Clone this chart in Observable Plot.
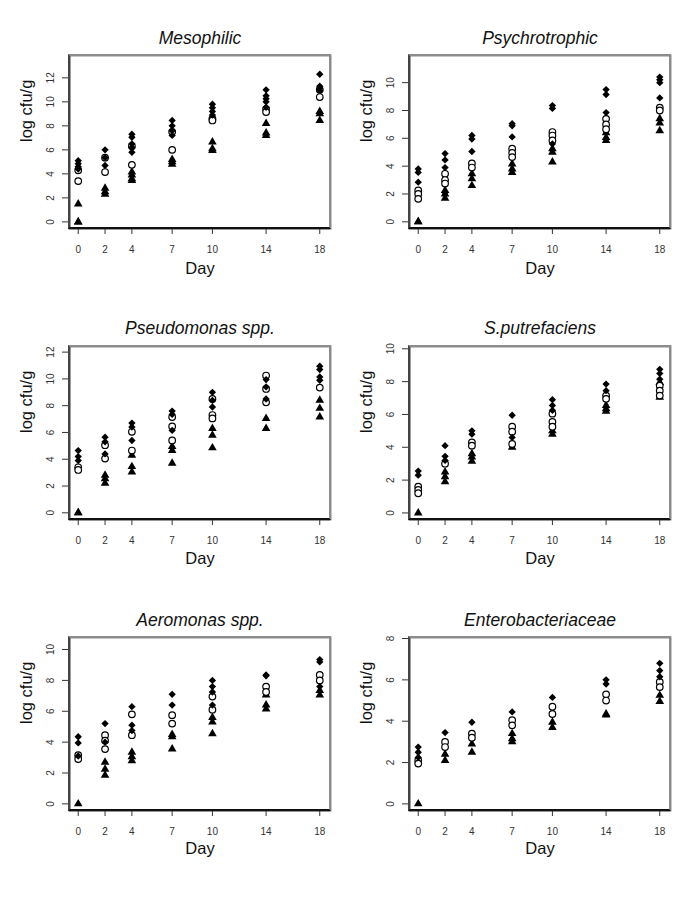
<!DOCTYPE html>
<html>
<head>
<meta charset="utf-8">
<script src="https://cdn.jsdelivr.net/npm/d3@7"></script>
<script src="https://cdn.jsdelivr.net/npm/@observablehq/plot@0.6"></script>
<style>
  html, body { margin: 0; padding: 0; background: #fff; }
  #grid {
    display: grid;
    grid-template-columns: 340px 339px;
    grid-template-rows: 290px 290px 290px;
    width: 679px;
  }
  .cell { position: relative; width: 339px; height: 290px; }
  .box {
    position: absolute;
    box-sizing: border-box;
    border-top: 2px solid #8c8c8c;
    border-right: 2px solid #8c8c8c;
    border-left: 2px solid #444;
    border-bottom: 2px solid #111;
    pointer-events: none;
  }
</style>
</head>
<body>
<div id="grid"></div>
<script>
// Sampling days (x axis ticks)
const days = [0, 2, 4, 7, 10, 14, 18];

// Counts in log cfu/g; each inner list holds the replicates for one day, in the order of `days`.
// "high" = filled diamonds, "mid" = open circles, "low" = filled triangles.
const mesophilicHigh = [[5.1, 4.85, 4.6, 4.4], [6.0, 5.35, 4.7], [7.3, 7.05, 6.5, 6.2, 5.8], [8.45, 8.0, 7.6, 7.2], [9.8, 9.5, 9.2, 8.9], [11.0, 10.5, 10.25, 10.0, 9.55], [12.3, 11.3, 11.15, 10.95]];
const mesophilicMid = [[4.3, 3.4], [5.35, 4.15], [6.3, 4.75], [7.5, 6.0], [8.6, 8.45], [9.4, 9.15], [11.0, 10.4]];
const mesophilicLow = [[1.5, 0, 0], [2.8, 2.5, 2.3], [4.15, 3.9, 3.6, 3.45], [5.2, 5.0, 4.8], [6.65, 6.1, 5.95], [8.2, 7.4, 7.2], [9.2, 9.0, 8.45]];

const psychroHigh = [[3.8, 3.55, 2.85], [4.9, 4.45, 3.9, 2.1], [6.2, 5.95, 5.05], [7.05, 6.9, 6.1], [8.35, 8.15, 5.6], [9.5, 9.15, 7.85], [10.4, 10.2, 10.0, 8.9]];
const psychroMid = [[2.25, 2.0, 1.65], [3.45, 3.0, 2.75], [4.2, 3.9], [5.25, 4.95, 4.65], [6.45, 6.2, 5.85], [7.4, 7.0, 6.65], [8.2, 8.0]];
const psychroLow = [[0, 0], [2.25, 2.0, 1.7], [3.45, 3.1, 2.6], [4.15, 3.8, 3.55], [5.25, 5.0, 4.3], [6.4, 6.05, 5.85], [7.4, 7.1, 6.55]];

const pseudoHigh = [[4.65, 4.2, 3.9], [5.65, 5.3, 4.4], [6.7, 6.4, 5.4], [7.6, 7.35, 6.15], [9.0, 8.4, 7.9], [9.95, 9.4, 8.5], [10.95, 10.7, 10.15, 9.9]];
const pseudoMid = [[3.4, 3.2], [5.05, 4.05], [6.05, 4.65], [7.15, 6.45, 5.4], [8.5, 7.3, 7.05], [10.25, 9.25, 8.25], [9.35]];
const pseudoLow = [[0, 0], [2.8, 2.55, 2.2], [4.3, 3.45, 3.05], [4.95, 4.65, 3.7], [6.3, 5.8, 4.85], [7.05, 6.3], [8.4, 7.8, 7.15]];

const shewHigh = [[2.55, 2.3], [4.1, 3.45, 3.2], [5.0, 4.8], [5.95, 4.6], [6.9, 6.55, 6.25], [7.85, 7.45], [8.75, 8.5, 8.15]];
const shewMid = [[1.6, 1.4, 1.2], [3.0], [4.3, 4.1], [5.25, 4.95, 4.2], [6.05, 5.55, 5.25], [7.15, 6.95], [7.75, 7.45, 7.15]];
const shewLow = [[0], [2.5, 2.2, 1.9], [3.6, 3.4, 3.15], [4.0], [5.0, 4.8], [6.55, 6.35, 6.2], [7.95, 7.05]];

const aeroHigh = [[4.35, 3.95, 3.1], [5.2, 4.0], [6.3, 5.1, 4.75], [7.1, 6.4], [8.0, 7.6, 7.25, 6.4], [8.35, 8.3], [9.35, 9.2, 7.6]];
const aeroMid = [[3.15, 2.9], [4.45, 4.1, 3.55], [5.8, 4.45], [5.75, 5.2], [6.95, 6.1], [7.6, 7.25], [8.35, 8.0]];
const aeroLow = [[0], [2.7, 2.25, 1.85], [3.35, 3.05, 2.8], [4.5, 4.35, 3.55], [5.6, 5.3, 4.55], [7.05, 6.4, 6.15], [7.35, 7.05]];

const enteroHigh = [[2.75, 2.5, 2.25], [3.45], [3.95], [4.45], [5.15], [6.0, 5.8], [6.8, 6.45, 6.15]];
const enteroMid = [[2.1, 1.95], [3.0, 2.75], [3.4, 3.2], [4.05, 3.8], [4.7, 4.35], [5.3, 5.0], [5.9, 5.65]];
const enteroLow = [[0], [2.4, 2.1], [2.9, 2.5], [3.4, 3.15, 3.0], [3.95, 3.7], [4.35, 4.3], [5.25, 4.95]];

// Panel titles and y tick labels
const titles = ["Mesophilic", "Psychrotrophic", "Pseudomonas spp.", "S.putrefaciens", "Aeromonas spp.", "Enterobacteriaceae"];
const yTickSets = [[0, 2, 4, 6, 8, 10, 12], [0, 2, 4, 6, 8, 10], [0, 2, 4, 6, 8, 10, 12], [0, 2, 4, 6, 8, 10], [0, 2, 4, 6, 8, 10], [0, 2, 4, 6, 8]];
const yLimits = [[-0.55, 13.86], [-0.48, 11.95], [-0.5, 12.42], [-0.4, 10.14], [-0.43, 10.78], [-0.32, 8.05]];
const seriesSets = [
  [mesophilicHigh, mesophilicMid, mesophilicLow],
  [psychroHigh, psychroMid, psychroLow],
  [pseudoHigh, pseudoMid, pseudoLow],
  [shewHigh, shewMid, shewLow],
  [aeroHigh, aeroMid, aeroLow],
  [enteroHigh, enteroMid, enteroLow]
];

const xLimits = [-0.65, 18.8];
const font = "'Liberation Sans', Arial, Helvetica, sans-serif";

// per-row layout of the plotting box
const rowTop = [55, 56, 57];
const rowBottom = [228, 229, 230];
const rowTitleY = [31.1, 31.1, 32.7];
const cellW = 339, cellH = 290;

const points = (groups) => groups.flatMap((vals, i) => vals.map((v) => ({day: days[i], v})));

const grid = document.getElementById("grid");

titles.forEach((title, k) => {
  const row = Math.floor(k / 2);
  const [high, mid, low] = seriesSets[k];
  const [x0, x1] = xLimits;
  const [y0, y1] = yLimits[k];
  const mt = rowTop[row];
  const mb = cellH - rowBottom[row];

  const chart = Plot.plot({
    width: cellW,
    height: cellH,
    marginLeft: 69,
    marginRight: 9,
    marginTop: mt,
    marginBottom: mb,
    style: {fontFamily: font, background: "white", overflow: "visible"},
    x: {domain: xLimits},
    y: {domain: [y0, y1]},
    marks: [
      // plot box: grey frame with darker left and bottom edges
      Plot.frame({stroke: "#8c8c8c", strokeWidth: 2}),
      Plot.ruleX([x0], {stroke: "#444", strokeWidth: 1.6}),
      Plot.ruleY([y0], {stroke: "#111", strokeWidth: 1.6}),
      Plot.axisX({ticks: days, tickSize: 6, tickPadding: 11, fontSize: 10, label: null, color: "#333", tickFormat: (d) => String(d)}),
      Plot.axisY({ticks: yTickSets[k], tickSize: 7, tickRotate: -90, tickPadding: 9, fontSize: 10, label: null, color: "#333", tickFormat: (d) => String(d)}),
      Plot.dot(points(low), {x: "day", y: "v", symbol: "triangle", fill: "black", r: 3.2}),
      Plot.dot(points(mid), {x: "day", y: "v", symbol: "circle", stroke: "black", fill: "white", strokeWidth: 1.2, r: 3.3}),
      Plot.dot(points(high), {x: "day", y: "v", symbol: "diamond2", fill: "black", r: 3.3}),
      Plot.text([title], {frameAnchor: "top", dy: rowTitleY[row] - mt, fontSize: 17.5, fontStyle: "italic", fill: "#111"}),
      Plot.text(["Day"], {frameAnchor: "bottom", dy: 273 - rowBottom[row], fontSize: 16.5, fill: "#111"}),
      Plot.text(["log cfu/g"], {frameAnchor: "left", dx: -43, rotate: -90, fontSize: 16.5, fill: "#111"})
    ]
  });

  const cell = document.createElement("div");
  cell.className = "cell";
  cell.appendChild(chart);

  // outline of the plotting area, placed from the chart's x and y scales
  const sx = chart.scale("x"), sy = chart.scale("y");
  const left = sx.apply(x0), right = sx.apply(x1), top = sy.apply(y1), bottom = sy.apply(y0);
  const box = document.createElement("div");
  box.className = "box";
  box.style.left = (left - 1) + "px";
  box.style.top = (top - 1) + "px";
  box.style.width = (right - left + 2) + "px";
  box.style.height = (bottom - top + 2) + "px";
  cell.appendChild(box);

  grid.appendChild(cell);
});
</script>
</body>
</html>
